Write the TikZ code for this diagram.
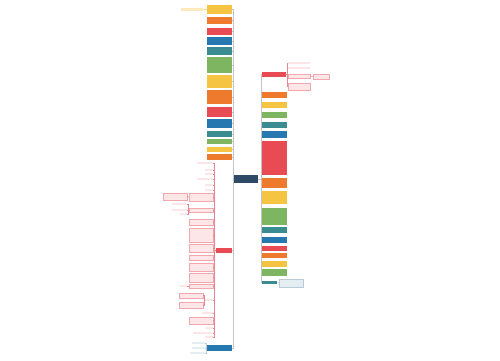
\documentclass[tikz,border=0pt]{standalone}
\usetikzlibrary{calc}
\definecolor{cyel}{HTML}{F6C443}
\definecolor{cora}{HTML}{EE7A2D}
\definecolor{cred}{HTML}{E94B55}
\definecolor{cblu}{HTML}{2679B0}
\definecolor{ctea}{HTML}{3A8C91}
\definecolor{cgre}{HTML}{7DB560}
\definecolor{cnav}{HTML}{2E4A66}
\definecolor{cpkf}{HTML}{FCE6E8}
\definecolor{cpkb}{HTML}{F2A6AE}
\definecolor{cpkl}{HTML}{E8858E}
\definecolor{ctrk}{HTML}{C4C4C4}
\definecolor{cgbx}{HTML}{E4EDF1}
\definecolor{cgbd}{HTML}{B9CBD4}
\tikzset{
  yel/.style={fill=cyel},
  ora/.style={fill=cora},
  red/.style={fill=cred},
  blu/.style={fill=cblu},
  tea/.style={fill=ctea},
  gre/.style={fill=cgre},
  nav/.style={fill=cnav},
  pkbox/.style={fill=cpkf,draw=cpkb,line width=0.3pt},
  pklab/.style={fill=cpkf},
  bllab/.style={fill=cgbx},
  ylab/.style={fill=cyel!35},
  gbox/.style={fill=cgbx,draw=cgbd,line width=0.3pt},
  trunk/.style={draw=ctrk,line width=0.5pt},
  pkline/.style={draw=cpkl,line width=0.5pt},
  blline/.style={draw=cgbd,line width=0.5pt},
}
\newcommand{\mybox}[6]{%
  \pgfmathsetmacro\bw{#5-#3}\pgfmathsetmacro\bh{#6-#4}%
  \node[#2,anchor=north west,minimum width=\bw pt,minimum height=\bh pt,inner sep=0pt,outer sep=0pt] (#1) at (#3,#4) {};}
\begin{document}
\begin{tikzpicture}[x=1pt,y=-1pt]
\fill[white] (0,0) rectangle (500,360);
\useasboundingbox (0,0) rectangle (500,360);
% center
\mybox{c}{nav}{234}{175}{258}{183}
% left main boxes
\mybox{L1}{yel}{207}{5}{232}{14}
\mybox{L2}{ora}{207}{17}{232}{24}
\mybox{L3}{red}{207}{28}{232}{35}
\mybox{L4}{blu}{207}{37}{232}{45}
\mybox{L5}{tea}{207}{47}{232}{55}
\mybox{L6}{gre}{207}{57}{232}{73}
\mybox{L7}{yel}{207}{75}{232}{88}
\mybox{L8}{ora}{207}{90}{232}{104}
\mybox{L9}{red}{207}{107}{232}{117}
\mybox{L10}{blu}{207}{119}{232}{128}
\mybox{L11}{tea}{207}{131}{232}{137}
\mybox{L12}{gre}{207}{139}{232}{144}
\mybox{L13}{yel}{207}{147}{232}{152}
\mybox{L14}{ora}{207}{154}{232}{160}
\mybox{L15}{red}{216}{248}{232}{253}
\mybox{L16}{blu}{207}{345}{232}{351}
\foreach \n in {L1,L2,L3,L4,L5,L6,L7,L8,L9,L10,L11,L12,L13,L14,L15,L16}
  \draw[trunk] (c.west) -- ++(-1,0) |- (\n.east);
% label of L1
\mybox{t1}{ylab}{181}{8}{203}{11}
\draw[draw=cyel!60,line width=0.4pt] (L1.west) -- (t1.east);
% right main boxes
\mybox{R1}{red}{262}{72}{286}{77}
\mybox{R2}{ora}{262}{92}{287}{98}
\mybox{R3}{yel}{262}{102}{287}{108}
\mybox{R4}{gre}{262}{112}{287}{118}
\mybox{R5}{tea}{262}{122}{287}{128}
\mybox{R6}{blu}{262}{131}{287}{138}
\mybox{R7}{red}{262}{141}{287}{175}
\mybox{R8}{ora}{262}{178}{287}{188}
\mybox{R9}{yel}{262}{191}{287}{204}
\mybox{R10}{gre}{262}{208}{287}{225}
\mybox{R11}{tea}{262}{227}{287}{233}
\mybox{R12}{blu}{262}{237}{287}{243}
\mybox{R13}{red}{262}{246}{287}{251}
\mybox{R14}{ora}{262}{253}{287}{258}
\mybox{R15}{yel}{262}{261}{287}{267}
\mybox{R16}{gre}{262}{269}{287}{276}
\mybox{R17}{tea}{262}{281}{277}{284}
\foreach \n in {R1,R2,R3,R4,R5,R6,R7,R8,R9,R10,R11,R12,R13,R14,R15,R16,R17}
  \draw[trunk] (c.east) -- ++(3,0) |- (\n.west);
% R17 child
\mybox{g1}{gbox}{279}{279}{303}{287}
\draw[blline] (R17.east) -- (g1.west);
% R1 children
\mybox{r1a}{pklab}{288}{62}{310}{64}
\mybox{r1b}{pklab}{288}{67}{310}{69}
\mybox{r1c}{pkbox}{288}{74}{310}{78}
\mybox{r1d}{pkbox}{288}{83}{310}{90}
\foreach \n in {r1a,r1b,r1c,r1d}
  \draw[pkline] (R1.east) -- ++(1,0) |- (\n.west);
\mybox{r1e}{pkbox}{313}{74}{329}{79}
\draw[pkline] (r1c.east) -- (r1e.west);
% L15 children
\mybox{P1}{pklab}{197}{162}{213}{164}
\mybox{P2}{pklab}{205}{169}{213}{171}
\mybox{P3}{pklab}{205}{173}{213}{175}
\mybox{P4}{pklab}{197}{178}{213}{180}
\mybox{P5}{pklab}{205}{184}{213}{186}
\mybox{P6}{pklab}{205}{189}{213}{191}
\mybox{P7}{pkbox}{189}{193}{213}{201}
\mybox{P8}{pkbox}{189}{208}{213}{212}
\mybox{P9}{pkbox}{189}{219}{213}{225}
\mybox{P10}{pkbox}{189}{228}{213}{242}
\mybox{P11}{pkbox}{189}{244}{213}{252}
\mybox{P12}{pkbox}{189}{255}{213}{260}
\mybox{P13}{pkbox}{189}{263}{213}{271}
\mybox{P14}{pkbox}{189}{273}{213}{282}
\mybox{P15}{pkbox}{189}{284}{213}{288}
\mybox{P16}{pklab}{205}{299}{213}{301}
\mybox{P17}{pklab}{202}{312}{213}{314}
\mybox{P18}{pkbox}{189}{317}{213}{324}
\mybox{P19}{pklab}{205}{327}{213}{329}
\mybox{P20}{pklab}{193}{332}{213}{334}
\mybox{P21}{pklab}{205}{336}{213}{338}
\foreach \n in {P1,P2,P3,P4,P5,P6,P7,P8,P9,P10,P11,P12,P13,P14,P15,P16,P17,P18,P19,P20,P21}
  \draw[pkline] (L15.west) -- ++(-2,0) |- (\n.east);
% grandchildren
\mybox{Q7}{pkbox}{163}{193}{187}{200}
\draw[pkline] (P7.west) -- (Q7.east);
\mybox{Q8a}{pklab}{172}{203}{187}{205}
\mybox{Q8b}{pklab}{172}{209}{187}{211}
\mybox{Q8c}{pklab}{180}{213}{187}{215}
\foreach \n in {Q8a,Q8b,Q8c}
  \draw[pkline] (P8.west) -- ++(-1,0) |- (\n.east);
\mybox{Q15}{pklab}{180}{285}{187}{287}
\draw[pkline] (P15.west) -- (Q15.east);
\mybox{Q16a}{pkbox}{179}{293}{203}{298}
\mybox{Q16b}{pkbox}{179}{302}{203}{308}
\foreach \n in {Q16a,Q16b}
  \draw[pkline] (P16.west) -- ++(-1,0) |- (\n.east);
% L16 children
\mybox{B1}{bllab}{192}{342}{205}{344}
\mybox{B2}{bllab}{192}{347}{205}{349}
\mybox{B3}{bllab}{190}{352}{205}{354}
\foreach \n in {B1,B2,B3}
  \draw[blline] (L16.west) -- ++(-1,0) |- (\n.east);
\end{tikzpicture}
\end{document}
